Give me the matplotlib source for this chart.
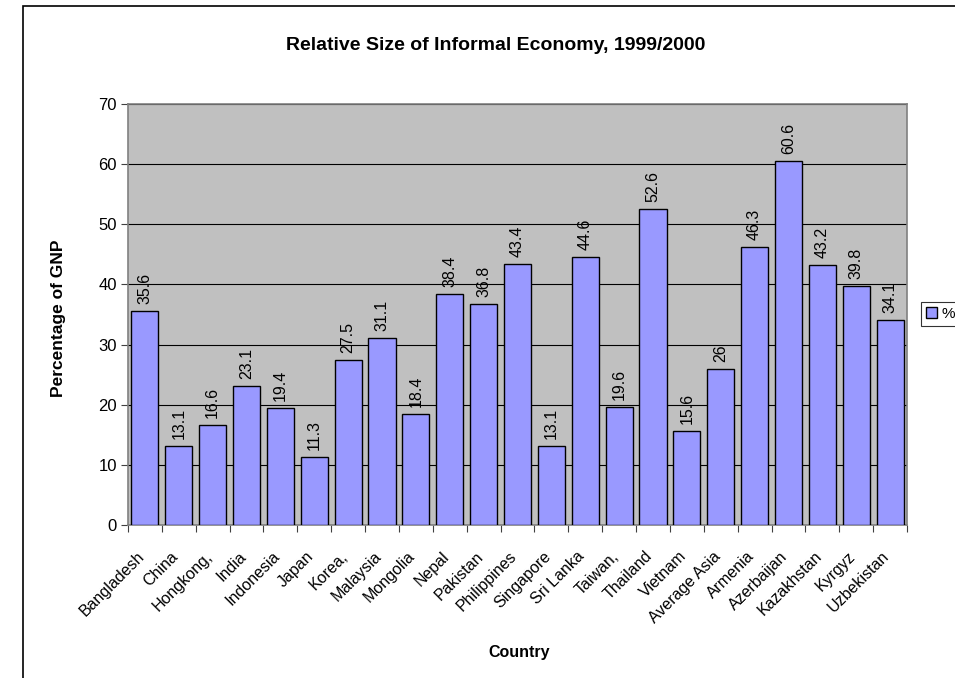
import matplotlib
matplotlib.use("Agg")
import matplotlib.pyplot as plt
from matplotlib.patches import Rectangle, Patch
import numpy as np

plt.rcParams['font.family'] = ['Liberation Sans', 'DejaVu Sans']

countries = ["Bangladesh", "China", "Hongkong,", "India", "Indonesia", "Japan", "Korea,",
             "Malaysia", "Mongolia", "Nepal", "Pakistan", "Philippines", "Singapore",
             "Sri Lanka", "Taiwan,", "Thailand", "Vietnam", "Average Asia", "Armenia",
             "Azerbaijan", "Kazakhstan", "Kyrgyz", "Uzbekistan"]
values = [35.6, 13.1, 16.6, 23.1, 19.4, 11.3, 27.5, 31.1, 18.4, 38.4, 36.8, 43.4, 13.1,
          44.6, 19.6, 52.6, 15.6, 26, 46.3, 60.6, 43.2, 39.8, 34.1]
value_labels = ["35.6", "13.1", "16.6", "23.1", "19.4", "11.3", "27.5", "31.1", "18.4",
                "38.4", "36.8", "43.4", "13.1", "44.6", "19.6", "52.6", "15.6", "26",
                "46.3", "60.6", "43.2", "39.8", "34.1"]
yticks = [0, 10, 20, 30, 40, 50, 60, 70]

W, H = 955, 678
fig = plt.figure(figsize=(W / 100, H / 100), dpi=100)
fig.patch.set_facecolor('white')

# outer chart border (cropped on right/bottom)
fig.add_artist(Rectangle((23 / W, -0.1), 2.0, (H - 6) / H + 0.1, transform=fig.transFigure,
                         fill=False, edgecolor='black', linewidth=1.2))

left, right, top, bottom = 128, 907, 104, 525
ax = fig.add_axes([left / W, 1 - bottom / H, (right - left) / W, (bottom - top) / H])
ax.set_facecolor('#C0C0C0')

n = len(countries)
x = np.arange(n)
bars = ax.bar(x, values, width=0.8, color='#9999FF', edgecolor='black', linewidth=1.0,
              zorder=3, label='%')
ax.set_xlim(-0.5, n - 0.5)
ax.set_ylim(0, 70)
ax.set_yticks(yticks)
ax.set_yticklabels([str(t) for t in yticks], fontsize=12)
ax.grid(axis='y', color='black', linewidth=0.8, zorder=1)
ax.set_axisbelow(True)

for s in ['top', 'right', 'left', 'bottom']:
    ax.spines[s].set_color('#808080')
    ax.spines[s].set_linewidth(1.2)

# x ticks at category boundaries
ax.set_xticks(np.arange(-0.5, n, 1.0), minor=False)
ax.set_xticklabels([])
ax.tick_params(axis='x', direction='out', length=5, color='#404040')
ax.tick_params(axis='y', direction='out', length=5, color='#404040', pad=3)

for i, name in enumerate(countries):
    ax.annotate(name, xy=(i, 0), xycoords=('data', 'axes fraction'),
                xytext=(-6, -17), textcoords='offset points',
                rotation=45, ha='right', va='top', rotation_mode='anchor', fontsize=11.5)

for i, (v, lab) in enumerate(zip(values, value_labels)):
    ax.annotate(lab, xy=(i, v), xytext=(0, 5), textcoords='offset points',
                rotation=90, ha='center', va='bottom', fontsize=11.5)

fig.text(496 / W, 1 - 45 / H, 'Relative Size of Informal Economy, 1999/2000',
         ha='center', va='center', fontsize=14, fontweight='bold')
fig.text(519 / W, 1 - 652 / H, 'Country', ha='center', va='center', fontsize=11.5,
         fontweight='bold')
fig.text(58 / W, 1 - 318 / H, 'Percentage of GNP', ha='center', va='center', fontsize=12.5,
         fontweight='bold', rotation=90)

leg = fig.legend(handles=[Patch(facecolor='#9999FF', edgecolor='black', label='%')],
                 loc='center left', bbox_to_anchor=(921 / W, 1 - 314 / H),
                 fontsize=11, frameon=True, fancybox=False, edgecolor='black',
                 handlelength=0.7, handleheight=0.7, handletextpad=0.3,
                 borderpad=0.35, borderaxespad=0.0)
leg.get_frame().set_linewidth(0.8)

fig.savefig('out.png', dpi=100)
